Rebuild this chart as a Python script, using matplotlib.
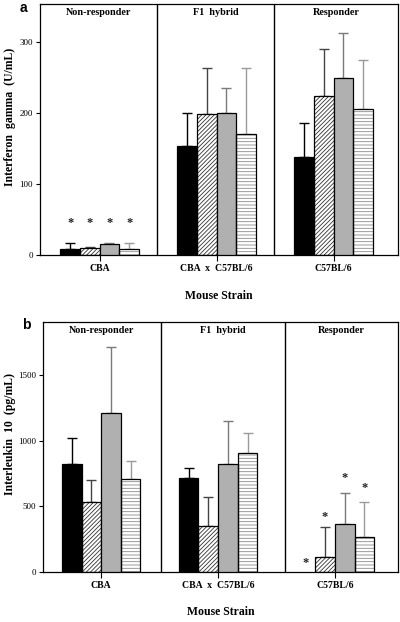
import matplotlib
matplotlib.use("Agg")
import matplotlib.pyplot as plt
import numpy as np

plt.rcParams['hatch.linewidth'] = 0.6

groups = ["CBA", "CBA  x  C57BL/6", "C57BL/6"]
panel_titles = ["Non-responder", "F1  hybrid", "Responder"]

# Panel a: Interferon gamma (U/mL)
ifn_vals = [[8, 10, 15.5, 8],
            [154, 198, 200.5, 171],
            [137.6, 224, 249.7, 205.6]]
ifn_err = [[8.5, 1, 1, 9],
           [46, 66, 34.5, 93],
           [48.4, 66.6, 63.3, 69.4]]
ifn_star = [[45, 45, 45, 45], [None] * 4, [None] * 4]

# Panel b: Interleukin 10 (pg/mL)
il10_vals = [[819, 529, 1207, 704],
             [714, 346, 818, 902],
             [0, 114, 361, 267]]
il10_err = [[198, 168, 508, 137],
            [76, 226, 328, 157],
            [0, 224, 236, 262]]
il10_star = [[None] * 4, [None] * 4, [64, 419, 711, 635]]

fills = ['black', 'white', '#b0b0b0', 'white']
hatches = [None, '////////', None, '-----']
hatch_colors = [None, '#333333', None, '#8a8a8a']
err_colors = ['black', '#444444', '#7a7a7a', '#9a9a9a']

serif = 'Liberation Serif'
W = 0.168
offsets = (np.arange(4) - 1.5) * W


def draw(ax, vals, errs, stars, ylim, yticks, ylabel, letter, xlim, dividers, lab_coords):
    vals = np.array(vals, dtype=float)
    errs = np.array(errs, dtype=float)
    x = np.arange(len(groups))
    for j in range(4):
        xs = x + offsets[j]
        v = vals[:, j]
        e = errs[:, j]
        mask = v > 0
        if hatches[j]:
            ax.bar(xs[mask], v[mask], W, color=fills[j], edgecolor=hatch_colors[j],
                   hatch=hatches[j], linewidth=0, zorder=2)
            ax.bar(xs[mask], v[mask], W, color='none', edgecolor='black', linewidth=0.9, zorder=3)
        else:
            ax.bar(xs[mask], v[mask], W, color=fills[j], edgecolor='black', linewidth=0.9, zorder=3)
        em = mask & (e > 0)
        ax.errorbar(xs[em], v[em], yerr=[np.zeros(em.sum()), e[em]], fmt='none',
                    ecolor=err_colors[j], elinewidth=1.0, capsize=3.6, capthick=1.0, zorder=1)
        for gi in range(len(groups)):
            s = stars[gi][j]
            if s is not None:
                ax.text(xs[gi], s, '*', ha='center', va='center', fontsize=9,
                        family=serif, fontweight='bold', color='#222222')
    for d in dividers:
        ax.axvline(d, color='black', lw=1.0, zorder=4)
    ax.set_xlim(*xlim)
    ax.set_ylim(*ylim)
    ax.set_yticks(yticks)
    ax.set_yticklabels([str(t) for t in yticks], family=serif, fontsize=6.5)
    ax.set_xticks(x)
    ax.set_xticklabels(groups, family=serif, fontweight='bold', fontsize=7)
    ax.tick_params(axis='y', length=3, width=0.8, pad=2, direction='out')
    ax.tick_params(axis='x', length=4, width=0.8, pad=2.5, direction='out')
    ax.set_xlabel('Mouse Strain', family=serif, fontweight='bold', fontsize=8.5, labelpad=12)
    ax.set_ylabel(ylabel, family=serif, fontweight='bold', fontsize=8.5)
    ax.yaxis.set_label_coords(*lab_coords)
    for sp in ax.spines.values():
        sp.set_linewidth(0.9)
    centers = [(xlim[0] + dividers[0]) / 2, (dividers[0] + dividers[1]) / 2, (dividers[1] + xlim[1]) / 2]
    for c, t in zip(centers, panel_titles):
        ax.text(c, 0.965, t, transform=ax.get_xaxis_transform(), ha='center', va='center',
                family=serif, fontweight='bold', fontsize=7.3)
    ax.text(-0.035, 0.985, letter, transform=ax.transAxes, ha='right', va='center',
            family='Liberation Sans', fontweight='bold', fontsize=10)


fig = plt.figure(figsize=(4.0, 6.22), dpi=100)
ax1 = fig.add_axes([0.100, 0.590, 0.895, 0.4036])
ax2 = fig.add_axes([0.107, 0.0809, 0.888, 0.4019])

draw(ax1, ifn_vals, ifn_err, ifn_star, (0, 353.5), [0, 100, 200, 300],
     'Interferon  gamma  (U/mL)', 'a', (-0.51, 2.55), (0.49, 1.49), (-0.068, 0.55))
draw(ax2, il10_vals, il10_err, il10_star, (0, 1907), [0, 500, 1000, 1500],
     'Interleukin  10  (pg/mL)', 'b', (-0.075, 0.55) if False else (-0.5, 2.54), (0.51, 1.57), (-0.075, 0.55))

fig.savefig('out.png', dpi=100)
